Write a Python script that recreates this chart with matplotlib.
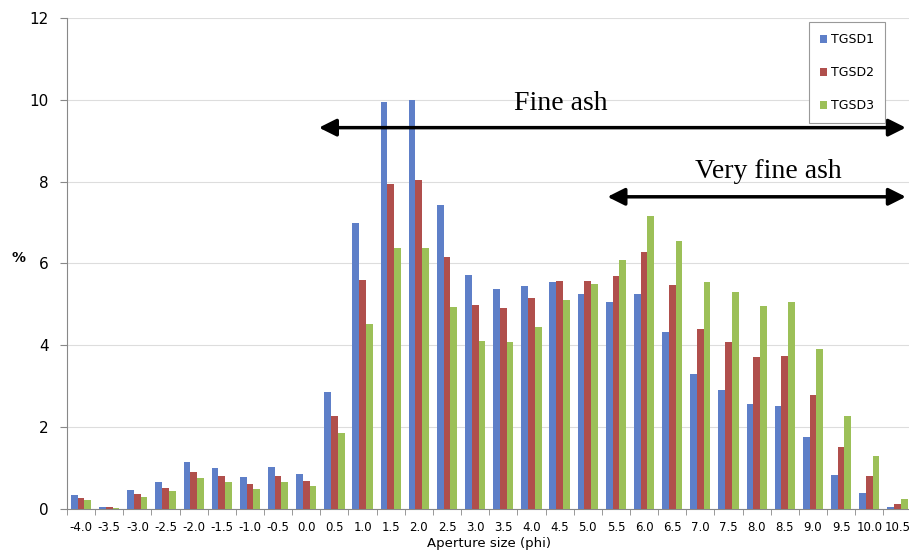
import matplotlib.pyplot as plt
import numpy as np

# aperture size classes (phi)
phi = ["-4.0", "-3.5", "-3.0", "-2.5", "-2.0", "-1.5", "-1.0", "-0.5", "0.0", "0.5",
       "1.0", "1.5", "2.0", "2.5", "3.0", "3.5", "4.0", "4.5", "5.0", "5.5",
       "6.0", "6.5", "7.0", "7.5", "8.0", "8.5", "9.0", "9.5", "10.0", "10.5"]

tgsd1 = [0.33, 0.05, 0.47, 0.66, 1.16, 1.00, 0.77, 1.02, 0.86, 2.86,
         7.00, 9.94, 10.00, 7.43, 5.71, 5.37, 5.46, 5.55, 5.26, 5.05,
         5.25, 4.33, 3.30, 2.92, 2.56, 2.51, 1.75, 0.84, 0.38, 0.04]
tgsd2 = [0.26, 0.04, 0.37, 0.52, 0.91, 0.80, 0.61, 0.81, 0.68, 2.28,
         5.60, 7.95, 8.05, 6.15, 4.98, 4.90, 5.16, 5.56, 5.57, 5.70,
         6.29, 5.48, 4.41, 4.09, 3.71, 3.73, 2.78, 1.51, 0.80, 0.12]
tgsd3 = [0.22, 0.02, 0.30, 0.43, 0.75, 0.65, 0.50, 0.67, 0.56, 1.85,
         4.51, 6.37, 6.37, 4.93, 4.10, 4.07, 4.44, 5.11, 5.50, 6.08,
         7.16, 6.56, 5.54, 5.31, 4.96, 5.07, 3.92, 2.27, 1.29, 0.24]

names = ["TGSD1", "TGSD2", "TGSD3"]
colors = ["#5e7fc8", "#b04f4c", "#9cc058"]

fig = plt.figure(figsize=(9.09, 5.57), dpi=100)
ax = fig.add_axes([0.0737, 0.0862, 0.929, 0.8815])

x = np.arange(len(phi))
w = 0.24
for i, (vals, name, c) in enumerate(zip([tgsd1, tgsd2, tgsd3], names, colors)):
    ax.bar(x + (i - 1) * w, vals, width=w, color=c, label=name, zorder=3)

ax.set_xlim(-0.5, len(phi) - 0.5)
ax.set_ylim(0, 12)
ax.set_yticks(range(0, 13, 2))
ax.tick_params(axis="y", labelsize=11, length=5, color="#888888", pad=8)
ax.set_xticks(x)
ax.set_xticklabels(phi, fontsize=8.5)
ax.set_xticks(np.arange(-0.5, len(phi), 1), minor=True)
ax.tick_params(axis="x", which="major", length=0, pad=9)
ax.tick_params(axis="x", which="minor", length=4, color="#888888")
ax.grid(axis="y", color="#dddddd", lw=0.8, zorder=0)
for s in ["top", "right"]:
    ax.spines[s].set_visible(False)
for s in ["left", "bottom"]:
    ax.spines[s].set_color("#888888")

ax.set_xlabel("Aperture size (phi)", fontsize=9.5, labelpad=2)
ax.set_ylabel("%", fontsize=10, fontweight="bold", rotation=0)
ax.yaxis.set_label_coords(-0.058, 0.497)

# size class arrows
arrow = dict(arrowstyle="<|-|>", color="black", lw=2.5, mutation_scale=26, shrinkA=0, shrinkB=0)
ax.annotate("", xy=(8.45, 9.32), xytext=(29.3, 9.32), arrowprops=arrow, annotation_clip=False)
ax.annotate("", xy=(18.7, 7.63), xytext=(29.3, 7.63), arrowprops=arrow, annotation_clip=False)
ax.text(17.05, 9.9, "Fine ash", fontsize=20, family="Liberation Serif", ha="center", va="center")
ax.text(24.4, 8.24, "Very fine ash", fontsize=20, family="Liberation Serif", ha="center", va="center")

leg = ax.legend(loc="upper right", bbox_to_anchor=(0.969, 0.992), borderaxespad=0,
                fontsize=9, handlelength=0.6, handleheight=0.6, handletextpad=0.3,
                labelspacing=1.6, fancybox=False, framealpha=1, borderpad=0.9)
leg.get_frame().set_edgecolor("#999999")
leg.get_frame().set_linewidth(0.8)

fig.savefig("out.png", dpi=100)
